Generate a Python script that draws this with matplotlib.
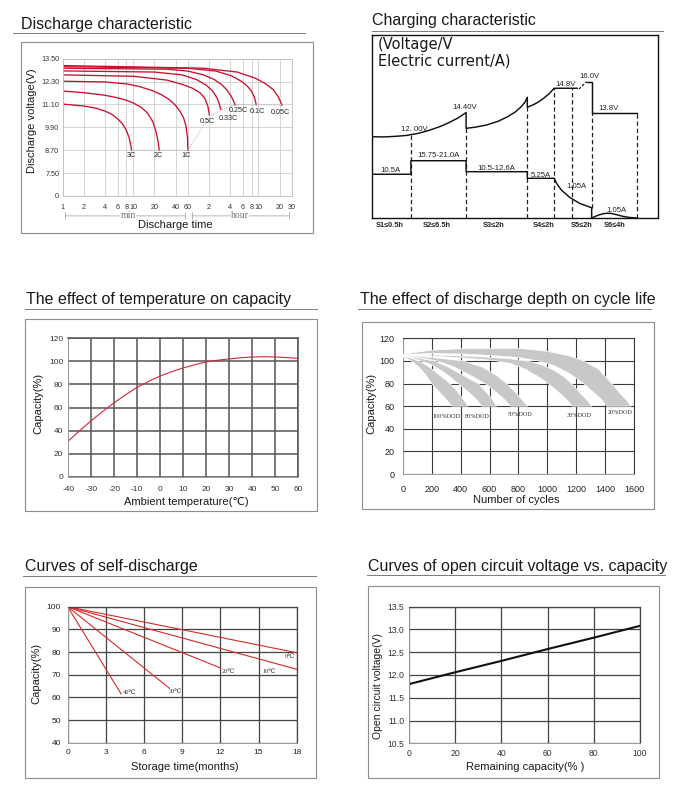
import numpy as np
import matplotlib
matplotlib.use('Agg')
from matplotlib import pyplot as plt
from matplotlib.lines import Line2D
from matplotlib.patches import Rectangle
import matplotlib.ticker as ticker

plt.rcParams['font.family'] = ['Liberation Sans', 'DejaVu Sans']
plt.rcParams['axes.unicode_minus'] = False

# ---------------- data ----------------
# discharge characteristic: time (min) vs terminal voltage (V)
rates = ['3C', '2C', '1C', '0.5C', '0.33C', '0.25C', '0.1C', '0.05C']
dis_time = [
    [1, 2, 3, 4, 5, 6, 7, 8, 8.8, 9.3, 9.5],
    [1, 2, 4, 6, 8, 10, 13, 16, 19, 21, 22.5, 23.5],
    [1, 4, 8, 12, 18, 25, 32, 40, 46, 52, 56, 59, 60],
    [1, 10, 30, 50, 70, 90, 105, 115, 121],
    [1, 20, 50, 80, 110, 135, 155, 168, 175],
    [1, 30, 60, 100, 140, 180, 215, 245, 265, 280],
    [1, 60, 150, 250, 350, 420, 480, 530, 560],
    [1, 100, 300, 540, 750, 980, 1150, 1260, 1300],
]
dis_volt = [
    [11.12, 11.02, 10.90, 10.75, 10.58, 10.35, 10.10, 9.75, 9.35, 8.95, 8.70],
    [11.80, 11.72, 11.58, 11.45, 11.32, 11.18, 10.95, 10.65, 10.20, 9.70, 9.20, 8.70],
    [12.32, 12.28, 12.18, 12.05, 11.85, 11.62, 11.38, 11.05, 10.75, 10.40, 10.00, 9.40, 8.70],
    [12.65, 12.58, 12.38, 12.15, 11.95, 11.70, 11.40, 11.00, 10.55],
    [12.86, 12.80, 12.65, 12.40, 12.10, 11.80, 11.45, 11.10, 10.85],
    [13.00, 12.95, 12.85, 12.65, 12.42, 12.15, 11.85, 11.55, 11.30, 11.08],
    [13.08, 13.00, 12.85, 12.60, 12.30, 12.05, 11.80, 11.45, 11.08],
    [13.14, 13.00, 12.80, 12.48, 12.20, 11.87, 11.50, 11.17, 11.05],
]
cut_time = [9.5, 60, 100, 130, 200, 280, 560, 1300]
cut_volt = [8.70, 8.70, 10.0, 10.5, 10.9, 11.08, 11.08, 11.08]
time_ticks = [1, 2, 4, 6, 8, 10, 20, 40, 60, 120, 240, 360, 480, 600, 1200, 1800]
time_tick_labels = ['1', '2', '4', '6', '8', '10', '20', '40', '60',
                    '2', '4', '6', '8', '10', '20', '30']
volt_ticks = [6.3, 7.5, 8.7, 9.9, 11.1, 12.3, 13.5]
volt_tick_labels = ['0', '7.50', '8.70', '9.90', '11.10', '12.30', '13.50']

# charging characteristic (schematic units 0-100)
volt_a_x = [0, 4, 8, 12, 16, 20, 24, 27, 30, 32.9,
            32.9, 36, 40, 44, 47, 50, 52, 53.5, 54.3,
            54.3, 56, 58, 60, 62, 63.7, 71.7]
volt_a_y = [44.4, 44.3, 44.6, 45.1, 46.2, 47.9, 50.1, 52.2, 54.6, 57.6,
            49.0, 49.6, 50.8, 52.8, 55.0, 57.8, 60.6, 63.3, 66.0,
            60.5, 61.6, 63.2, 65.4, 68.0, 70.9, 70.9]
volt_rise_x = [72.4, 75.0]
volt_rise_y = [70.5, 74.5]
volt_b_x = [75.0, 76.8, 76.8, 92.6]
volt_b_y = [74.5, 74.5, 57.2, 57.2]
curr_x = [0, 13.6, 13.6, 32.9, 32.9, 54.3, 54.3, 63.7, 64.5, 66.2, 69.1, 72.6, 76.8, 76.8]
curr_y = [23.9, 23.9, 31.3, 31.3, 25.3, 25.3, 21.7, 21.7, 19.0, 15.3, 11.3, 8.0, 5.6, 0]
curr_s6_x = [76.8, 79, 81, 82.5, 84, 86, 88, 90, 92.6]
curr_s6_y = [0, 1.5, 2.4, 2.6, 2.4, 1.6, 0.8, 0.3, 0]
stage_x = [13.6, 32.9, 54.3, 63.7, 69.8, 92.6]
stage_top = [45.4, 49.0, 60.5, 70.9, 70.9, 57.2]
stage_names = ['S1≤0.5h', 'S2≤6.5h', 'S3≤2h', 'S4≤2h', 'S5≤2h', 'S6≤4h']
chg_notes = ['12. 00V', '14.40V', '14.8V', '16.0V', '13.8V',
             '10.5A', '15.75-21.0A', '10.5-12.6A', '5.25A', '1.05A', '1.05A']

# temperature effect on capacity
temp_c = [-40, -35, -30, -25, -20, -15, -10, -5, 0, 5, 10, 15, 20, 25, 30, 35, 40, 45, 50, 55, 60]
temp_cap = [30.9, 40.0, 48.6, 56.6, 64.2, 71.1, 77.5, 82.7, 87.3, 91.0, 94.3, 97.1,
            99.5, 101.0, 102.1, 103.1, 103.8, 104.0, 103.8, 103.3, 102.6]

# discharge depth vs cycle life (band outlines: upper and lower edge)
dod_names = ['100%DOD', '80%DOD', '50%DOD', '30%DOD', '20%DOD']
dod_outer_x = [
    [0, 50, 110, 160, 210, 260, 327, 380, 420, 451],
    [0, 80, 150, 214, 300, 400, 470, 522, 580, 620, 649],
    [0, 100, 200, 300, 420, 550, 650, 718, 780, 830, 863],
    [0, 200, 400, 600, 750, 857, 950, 1050, 1120, 1167, 1230, 1275, 1306],
    [0, 200, 450, 800, 1000, 1150, 1248, 1350, 1444, 1510, 1550, 1577],
]
dod_outer_y = [
    [103.9, 102.8, 100.0, 96.5, 92.0, 87.0, 80.0, 72.5, 66.0, 60],
    [104.4, 103.0, 101.5, 100.0, 95.5, 88.5, 83.5, 80.0, 72.0, 66.0, 60],
    [104.9, 104.2, 103.0, 101.7, 100.0, 94.5, 87.0, 80.0, 72.0, 65.0, 60],
    [105.4, 105.2, 104.5, 103.2, 101.8, 100.0, 97.0, 91.5, 85.5, 80.0, 71.0, 65.0, 60],
    [106.0, 109.5, 111.0, 111.2, 108.5, 104.5, 100.0, 93.0, 80.0, 70.0, 65.0, 60],
]
dod_inner_x = [
    [0, 40, 80, 120, 160, 200, 250, 300, 340],
    [0, 60, 130, 200, 280, 340, 384, 450, 510, 546],
    [0, 100, 170, 235, 350, 450, 569, 650, 710, 746],
    [0, 200, 400, 550, 650, 750, 850, 930, 1006, 1080, 1140, 1170],
    [0, 200, 450, 700, 800, 937, 1050, 1150, 1250, 1330, 1380, 1409],
]
dod_inner_y = [
    [103.5, 101.5, 98.0, 93.5, 87.5, 80.0, 73.0, 66.0, 60],
    [104.1, 102.5, 100.0, 96.5, 90.5, 84.5, 80.0, 73.0, 66.0, 60],
    [104.6, 103.0, 101.5, 100.0, 95.0, 88.5, 80.0, 72.0, 65.0, 60],
    [105.1, 104.2, 102.8, 101.3, 100.0, 97.5, 92.5, 86.5, 80.0, 72.0, 65.0, 60],
    [105.6, 106.5, 106.0, 104.0, 103.0, 100.0, 95.5, 89.0, 80.0, 71.0, 65.0, 60],
]

# self-discharge
sd_names = ['0℃', '10℃', '20℃', '30℃', '40℃']
sd_months = [[0, 18], [0, 18], [0, 12], [0, 8], [0, 4.2]]
sd_cap = [[100, 79.7], [100, 72.4], [100, 73.0], [100, 64.0], [100, 61.5]]

# open circuit voltage vs remaining capacity
ocv_cap = [0, 20, 40, 60, 80, 100]
ocv_volt = [11.80, 12.06, 12.31, 12.57, 12.82, 13.08]

# ---------------- layout helpers ----------------
W, H = 689, 788
fig = plt.figure(figsize=(W / 100, H / 100), dpi=100)


def fx(x):
    return x / W


def fy(y):
    return 1 - y / H


def px_box(l, t, r, b):
    return [fx(l), fy(b), (r - l) / W, (b - t) / H]


def frame(l, t, r, b):
    fig.add_artist(Rectangle((fx(l), fy(b)), (r - l) / W, (b - t) / H,
                             transform=fig.transFigure, fill=False, ec='#8c8c8c', lw=0.8))


def heading(text, x, y, x0, x1, yl):
    fig.text(fx(x), fy(y), text, fontsize=11.5, ha='left', va='center', color='#1a1a1a')
    fig.add_artist(Line2D([fx(x0), fx(x1)], [fy(yl), fy(yl)],
                          transform=fig.transFigure, color='#7a7a7a', lw=0.7))


def label(text, x, y, rot=0, size=8):
    fig.text(fx(x), fy(y), text, fontsize=size, ha='center', va='center',
             rotation=rot, color='#1a1a1a')


def style_grid(ax, gcol, glw, light='#999999'):
    ax.grid(True, color=gcol, lw=glw)
    ax.set_axisbelow(True)
    for side in ['top', 'right']:
        ax.spines[side].set_color(gcol)
        ax.spines[side].set_linewidth(glw)
    for side in ['left', 'bottom']:
        ax.spines[side].set_color(light)
        ax.spines[side].set_linewidth(0.7)


# ---------------- 1. discharge characteristic ----------------
heading('Discharge characteristic', 21, 24, 13, 305, 33.3)
frame(21, 42, 313, 233)
ax1 = fig.add_axes(px_box(62.7, 58.7, 292, 196))
for t, v in zip(dis_time, dis_volt):
    ax1.plot(t, v, color='#c8102e', lw=0.95)
ax1.plot(cut_time, cut_volt, color='#b0b0b0', lw=0.6, ls=(0, (1.5, 1.5)))
ax1.set_xscale('log')
ax1.set_xlim(1, 1800)
ax1.set_ylim(6.3, 13.5)
ax1.xaxis.set_minor_locator(ticker.NullLocator())
ax1.set_xticks(time_ticks, time_tick_labels)
ax1.set_yticks(volt_ticks, volt_tick_labels)
ax1.grid(True, color='#cfcfcf', lw=0.6)
for s in ax1.spines.values():
    s.set_color('#bdbdbd')
    s.set_linewidth(0.6)
ax1.tick_params(length=0, labelsize=5.2, labelcolor='#333333')
ax1.tick_params(axis='x', pad=5.5)
ax1.tick_params(axis='y', pad=2.5)
for name, (tx, ty, va) in zip(rates, [(9.3, 8.62, 'top'), (23, 8.62, 'top'), (57, 8.62, 'top'),
                                      (113, 10.21, 'center'), (224, 10.34, 'center'),
                                      (310, 10.79, 'center'), (580, 10.73, 'center'),
                                      (1250, 10.70, 'center')]):
    ax1.text(tx, ty, name, fontsize=5.2, ha='center', va=va, color='#222222')
dim = ax1.get_xaxis_transform()
for a, b in [(1, 60), (62, 1800)]:
    ax1.annotate('', xy=(a, -0.145), xytext=(b, -0.145), xycoords=dim, textcoords=dim,
                 arrowprops=dict(arrowstyle='|-|,widthA=0.25,widthB=0.25', color='#9a9a9a', lw=0.5),
                 annotation_clip=False)
ax1.text(8.5, -0.145, 'min', transform=dim, fontsize=7, ha='center', va='center',
         family=['Liberation Serif', 'DejaVu Serif'], color='#777777',
         bbox=dict(fc='white', ec='none', pad=0.3))
ax1.text(330, -0.145, 'hour', transform=dim, fontsize=7, ha='center', va='center',
         family=['Liberation Serif', 'DejaVu Serif'], color='#777777',
         bbox=dict(fc='white', ec='none', pad=0.3))
label('Discharge voltage(V)', 32, 121, rot=90)
label('Discharge time', 175, 225)

# ---------------- 2. charging characteristic ----------------
heading('Charging characteristic', 371.7, 20, 371.7, 663, 30.7)
ax2 = fig.add_axes(px_box(372, 35, 658, 218))
ax2.set_xlim(0, 100)
ax2.set_ylim(0, 100)
ax2.set_xticks([])
ax2.set_yticks([])
for s in ax2.spines.values():
    s.set_color('#111111')
    s.set_linewidth(1.0)
dash = (0, (3.5, 2.2))
for sx, st in zip(stage_x, stage_top):
    ax2.plot([sx, sx], [0, st], color='#222222', lw=0.9, ls=dash)
ax2.plot([76.8, 76.8], [5.6, 57.2], color='#222222', lw=0.9, ls=dash)
ax2.plot(volt_a_x, volt_a_y, color='#111111', lw=1.05)
ax2.plot(volt_rise_x, volt_rise_y, color='#111111', lw=0.9, ls=(0, (2, 1.5)))
ax2.plot(volt_b_x, volt_b_y, color='#111111', lw=1.05)
ax2.plot(curr_x, curr_y, color='#111111', lw=1.05)
ax2.plot(curr_s6_x, curr_s6_y, color='#111111', lw=1.05)
note_pos = [(14.7, 48.1), (32.5, 60.3), (67.8, 73.0), (76.0, 77.2), (82.8, 59.6),
            (6.3, 26.2), (23.2, 33.9), (43.6, 27.3), (59.0, 23.4), (71.6, 17.1), (85.6, 4.3)]
for txt, (nx, ny) in zip(chg_notes, note_pos):
    ax2.text(nx, ny, txt, fontsize=5.6, ha='center', va='center', color='#222222')
for name, nx in zip(stage_names, [6.3, 22.6, 42.4, 59.9, 73.3, 85.0]):
    ax2.text(nx, -3.9, name, fontsize=5.3, fontweight='bold', ha='center', va='center',
             color='#222222', clip_on=False)
fig.text(fx(377.7), fy(44.5), '(Voltage/V', fontsize=10.5, family='DejaVu Sans',
         ha='left', va='center', color='#1a1a1a')
fig.text(fx(377.7), fy(61.5), 'Electric current/A)', fontsize=10.5, family='DejaVu Sans',
         ha='left', va='center', color='#1a1a1a')

# ---------------- 3. temperature effect ----------------
heading('The effect of temperature on capacity', 26, 300, 25, 317, 309.3)
frame(25, 319, 317, 511)
ax3 = fig.add_axes(px_box(68.3, 338.3, 298, 476.7))
ax3.plot(temp_c, temp_cap, color='#d0283c', lw=0.8)
ax3.set_xlim(-40, 60)
ax3.set_ylim(0, 120)
ax3.set_xticks(range(-40, 61, 10))
ax3.set_yticks(range(0, 121, 20))
style_grid(ax3, '#555555', 1.1)
ax3.tick_params(length=0, labelsize=6, labelcolor='#333333')
ax3.tick_params(axis='x', pad=7)
ax3.tick_params(axis='y', pad=3.5)
label('Capacity(%)', 38.3, 403.3, rot=90)
label('Ambient temperature(℃)', 186.7, 501.7)

# ---------------- 4. discharge depth vs cycle life ----------------
heading('The effect of discharge depth on cycle life', 360, 299.3, 358, 651, 309.3)
frame(362, 322, 654, 509)
ax4 = fig.add_axes(px_box(402.7, 338.3, 634.3, 474))
for ox, oy, ix, iy in list(zip(dod_outer_x, dod_outer_y, dod_inner_x, dod_inner_y))[::-1]:
    ax4.fill(list(ox) + list(ix)[::-1], list(oy) + list(iy)[::-1],
             fc='#c8c8c8', ec='white', lw=0.5, zorder=3)
for name, (lx, ly) in zip(dod_names, [(300, 50.5), (513, 50.5), (813, 52.5), (1216, 52), (1505, 54.5)]):
    ax4.text(lx, ly, name, fontsize=4.4, ha='center', va='center', color='#333333',
             family=['Liberation Serif', 'DejaVu Serif'], zorder=4)
ax4.set_xlim(0, 1600)
ax4.set_ylim(0, 120)
ax4.set_xticks(range(0, 1601, 200))
ax4.set_yticks(range(0, 121, 20))
style_grid(ax4, '#3a3a3a', 0.8)
ax4.tick_params(length=0, labelsize=6.5, labelcolor='#222222')
ax4.tick_params(axis='x', pad=8)
ax4.tick_params(axis='y', pad=6)
label('Capacity(%)', 371.7, 403.3, rot=90)
label('Number of cycles', 516.7, 500)

# ---------------- 5. self-discharge ----------------
heading('Curves of self-discharge', 25, 566, 23, 316, 575.7)
frame(25, 587, 316, 778)
ax5 = fig.add_axes(px_box(67.7, 606.7, 296.7, 742.7))
for m, c in zip(sd_months, sd_cap):
    ax5.plot(m, c, color='#d42a2a', lw=0.8)
for name, (lx, ly) in zip(sd_names, [(17.5, 78.0), (15.85, 71.2), (12.6, 71.2), (8.5, 62.5), (4.85, 62.2)]):
    ax5.text(lx, ly, name, fontsize=4.6, ha='center', va='center', color='#333333',
             family=['Liberation Serif', 'DejaVu Serif', 'DejaVu Sans'])
ax5.set_xlim(0, 18)
ax5.set_ylim(40, 100)
ax5.set_xticks(range(0, 19, 3))
ax5.set_yticks(range(40, 101, 10))
style_grid(ax5, '#444444', 0.9)
ax5.tick_params(length=0, labelsize=6, labelcolor='#222222')
ax5.tick_params(axis='x', pad=4.7)
ax5.tick_params(axis='y', pad=4.8)
label('Capacity(%)', 36, 673.3, rot=90)
label('Storage time(months)', 185, 767.3)

# ---------------- 6. open circuit voltage ----------------
heading('Curves of open circuit voltage vs. capacity', 367.7, 566, 367, 665, 575)
frame(368, 586, 659, 778)
ax6 = fig.add_axes(px_box(409, 606.7, 640, 743.3))
ax6.plot(ocv_cap, ocv_volt, color='#111111', lw=1.5)
ax6.set_xlim(0, 100)
ax6.set_ylim(10.5, 13.5)
ax6.set_xticks(range(0, 101, 20))
ax6.set_yticks(np.arange(10.5, 13.51, 0.5))
ax6.yaxis.set_major_formatter(ticker.FormatStrFormatter('%.1f'))
style_grid(ax6, '#444444', 0.9)
ax6.tick_params(length=0, labelsize=6.2, labelcolor='#333333')
ax6.tick_params(axis='x', pad=4)
ax6.tick_params(axis='y', pad=3.4)
label('Open circuit voltage(V)', 378.3, 686, rot=90, size=7.5)
label('Remaining capacity(% )', 525, 767.3)

plt.savefig('out.png', dpi=100)
